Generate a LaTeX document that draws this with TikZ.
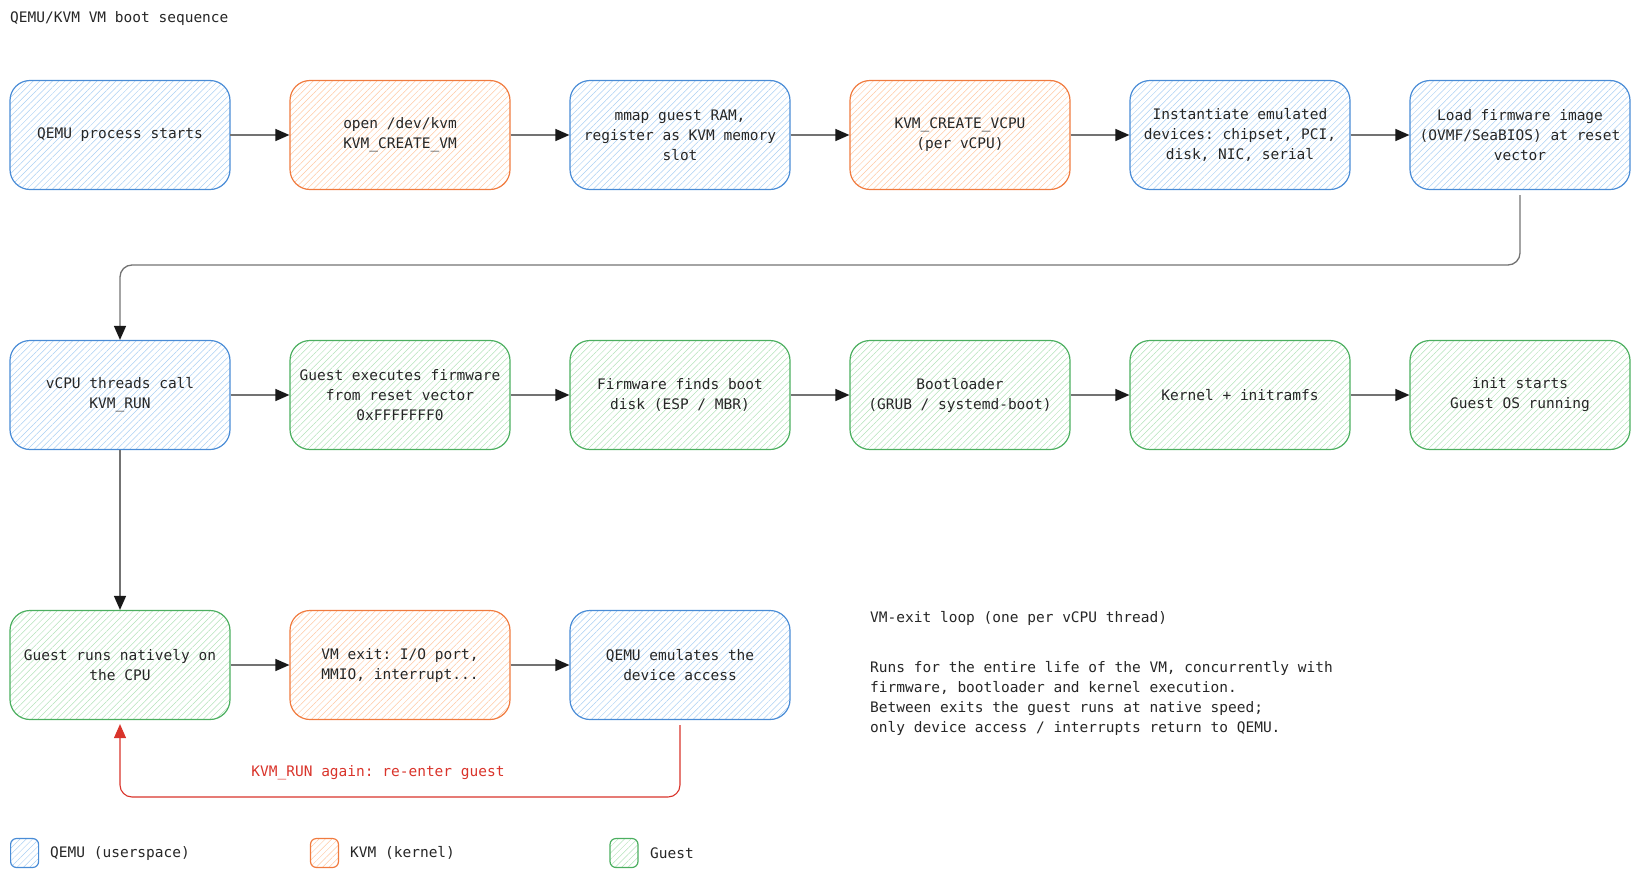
\documentclass[tikz,border=0pt]{standalone}
\usepackage{fontspec}
\setmonofont{DejaVu Sans Mono}
\usetikzlibrary{arrows.meta,patterns.meta}
\definecolor{qemuline}{HTML}{4A8CD6}
\definecolor{qemuhatch}{HTML}{A9CFF3}
\definecolor{kvmline}{HTML}{F07B3F}
\definecolor{kvmhatch}{HTML}{FFC8A2}
\definecolor{guestline}{HTML}{4CAF60}
\definecolor{guesthatch}{HTML}{B3E2BA}
\definecolor{loopred}{HTML}{D9342B}
\begin{document}
\begin{tikzpicture}[x=1pt,y=-1pt,
  every node/.style={font=\ttfamily\fontsize{14.5}{20}\selectfont, text=black!85},
  stage/.style={rounded corners=20pt, minimum width=220pt, minimum height=109pt, align=center, line width=1.2pt},
  swatch/.style={rounded corners=6pt, minimum width=28pt, minimum height=29pt, inner sep=0pt, line width=1.2pt},
  qemu/.style={draw=qemuline, pattern={Lines[angle=45,distance=4.5pt,line width=0.5pt]}, pattern color=qemuhatch},
  kvm/.style={draw=kvmline, pattern={Lines[angle=45,distance=4.5pt,line width=0.5pt]}, pattern color=kvmhatch},
  guest/.style={draw=guestline, pattern={Lines[angle=45,distance=4.5pt,line width=0.5pt]}, pattern color=guesthatch},
  txt/.style={anchor=west, inner sep=0pt},
  flow/.style={draw=black!55, line width=1.3pt, -{Triangle[length=14pt,width=12pt,color=black!90,fill=black!90]}},
  back/.style={draw=loopred, line width=1.1pt, -{Triangle[length=14pt,width=12pt,color=loopred,fill=loopred]}}]
\useasboundingbox (0,0) rectangle (1640,878);
\node[txt] (title) at (10,19) {QEMU/KVM VM boot sequence};
% boot path
\node[stage,qemu] (1) at (120,135) {QEMU process starts};
\node[stage,kvm] (2) at (400,135) {open /dev/kvm\\KVM\_CREATE\_VM};
\node[stage,qemu] (3) at (680,135) {mmap guest RAM,\\register as KVM memory\\slot};
\node[stage,kvm] (4) at (960,135) {KVM\_CREATE\_VCPU\\(per vCPU)};
\node[stage,qemu] (5) at (1240,135) {Instantiate emulated\\devices: chipset, PCI,\\disk, NIC, serial};
\node[stage,qemu] (6) at (1520,135) {Load firmware image\\(OVMF/SeaBIOS) at reset\\vector};
\node[stage,qemu] (7) at (120,395) {vCPU threads call\\KVM\_RUN};
\node[stage,guest] (8) at (400,395) {Guest executes firmware\\from reset vector\\0xFFFFFFF0};
\node[stage,guest] (9) at (680,395) {Firmware finds boot\\disk (ESP / MBR)};
\node[stage,guest] (10) at (960,395) {Bootloader\\(GRUB / systemd-boot)};
\node[stage,guest] (11) at (1240,395) {Kernel + initramfs};
\node[stage,guest] (12) at (1520,395) {init starts\\Guest OS running};
% exit loop
\node[stage,guest] (13) at (120,665) {Guest runs natively on\\the CPU};
\node[stage,kvm] (14) at (400,665) {VM exit: I/O port,\\MMIO, interrupt...};
\node[stage,qemu] (15) at (680,665) {QEMU emulates the\\device access};
\node[text=loopred] (again) at (378,773) {KVM\_RUN again: re-enter guest};
\node[txt] (loophead) at (870,618) {VM-exit loop (one per vCPU thread)};
\node[txt, align=left] (loopnote) at (870,698) {Runs for the entire life of the VM, concurrently with\\firmware, bootloader and kernel execution.\\Between exits the guest runs at native speed;\\only device access / interrupts return to QEMU.};
\coordinate (bend) at (0,265);
\coordinate (loop) at (0,797);
\path[flow] (1) -- (2);
\path[flow] (2) -- (3);
\path[flow] (3) -- (4);
\path[flow] (4) -- (5);
\path[flow] (5) -- (6);
\path[flow, rounded corners=12pt, shorten <=5pt] (6.south) -- (6.south |- bend) -| (7.north);
\path[flow] (7) -- (8);
\path[flow] (8) -- (9);
\path[flow] (9) -- (10);
\path[flow] (10) -- (11);
\path[flow] (11) -- (12);
\path[flow] (7) -- (13);
\path[flow] (13) -- (14);
\path[flow] (14) -- (15);
\path[back, rounded corners=12pt, shorten <=5pt, shorten >=4pt] (15.south) -- (15.south |- loop) -| (13.south);
% legend
\node[swatch,qemu] (lq) at (24.6,853) {};
\node[txt] (lqt) at (50,853) {QEMU (userspace)};
\node[swatch,kvm] (lk) at (324.5,853) {};
\node[txt] (lkt) at (350,853) {KVM (kernel)};
\node[swatch,guest] (lg) at (624,853) {};
\node[txt] (lgt) at (650,853) {Guest};
\end{tikzpicture}
\end{document}
